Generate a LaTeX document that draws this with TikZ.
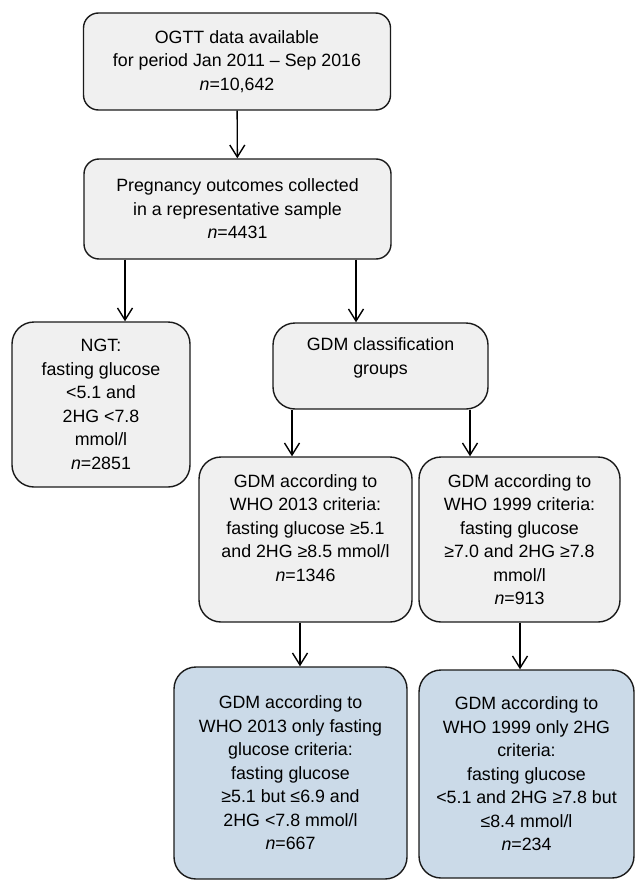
\documentclass[tikz,border=0pt]{standalone}
\usepackage{fontspec}
\setmainfont{Liberation Sans}
\usepackage{tikz}
\usetikzlibrary{arrows,arrows.meta}
\definecolor{boxgray}{HTML}{F0F0F0}
\definecolor{boxblue}{HTML}{CBDAE8}
\definecolor{boxline}{HTML}{1A1A1A}

\begin{document}
\begin{tikzpicture}[x=1pt, y=-1pt,
    box/.style={draw=boxline, line width=1.4pt, fill=boxgray, rounded corners=15pt,
      align=center, inner sep=2pt, font=\fontsize{17.8}{23.5}\selectfont},
    tall/.style={box, rounded corners=22pt},
    result/.style={tall, fill=boxblue},
    flow/.style={line width=1.4pt, -{Straight Barb[length=12pt,width=15pt]}}]
  \useasboundingbox (0,0) rectangle (635,880);
  % boxes
  \node[box, minimum width=307pt, minimum height=97pt] (ogtt) at (237,61.5)
    {OGTT data available\\for period Jan 2011 – Sep 2016\\\textit{n}=10,642};
  \node[box, minimum width=307pt, minimum height=100pt] (sample) at (237.5,209)
    {Pregnancy outcomes collected\\in a representative sample\\\textit{n}=4431};
  \node[tall, minimum width=178pt, minimum height=165pt] (ngt) at (101,404.5)
    {NGT:\\fasting glucose\\<5.1 and\\2HG <7.8\\mmol/l\\\textit{n}=2851};
  \node[tall, minimum width=215pt, minimum height=86pt] (gdm) at (380.5,366)
    {GDM classification\\groups\\[-4pt]\mbox{}};
  \node[tall, minimum width=213pt, minimum height=165pt] (who13) at (305.5,539.5)
    {GDM according to\\WHO 2013 criteria:\\fasting glucose ≥5.1\\and 2HG ≥8.5 mmol/l\\\textit{n}=1346\\\mbox{}};
  \node[tall, minimum width=201pt, minimum height=165pt] (who99) at (519.5,539.5)
    {GDM according to\\WHO 1999 criteria:\\fasting glucose\\≥7.0 and 2HG ≥7.8\\mmol/l\\\textit{n}=913};
  \node[result, minimum width=233pt, minimum height=212pt] (fast13) at (290.5,773)
    {GDM according to\\WHO 2013 only fasting\\glucose criteria:\\fasting glucose\\≥5.1 but ≤6.9 and\\2HG <7.8 mmol/l\\\textit{n}=667};
  \node[result, minimum width=215pt, minimum height=208pt] (twohg99) at (526.5,774)
    {GDM according to\\WHO 1999 only 2HG\\criteria:\\fasting glucose\\<5.1 and 2HG ≥7.8 but\\≤8.4 mmol/l\\\textit{n}=234};
  % arrow ends
  \coordinate (ngt-in) at ([xshift=24pt]ngt.north);
  \coordinate (gdm-in) at ([xshift=-24.5pt]gdm.north);
  \coordinate (who13-in) at ([xshift=-13.5pt]who13.north);
  \coordinate (who99-in) at ([xshift=-49.5pt]who99.north);
  \coordinate (fast13-in) at ([xshift=9.5pt]fast13.north);
  \coordinate (twohg99-in) at ([xshift=-6.5pt]twohg99.north);
  % arrows
  \path[flow]
    (ogtt) edge (sample)
    (sample.south -| ngt-in) edge (ngt-in)
    (sample.south -| gdm-in) edge (gdm-in)
    (gdm.south -| who13-in) edge (who13-in)
    (gdm.south -| who99-in) edge (who99-in)
    (who13.south -| fast13-in) edge (fast13-in)
    (who99.south -| twohg99-in) edge (twohg99-in);
\end{tikzpicture}
\end{document}
